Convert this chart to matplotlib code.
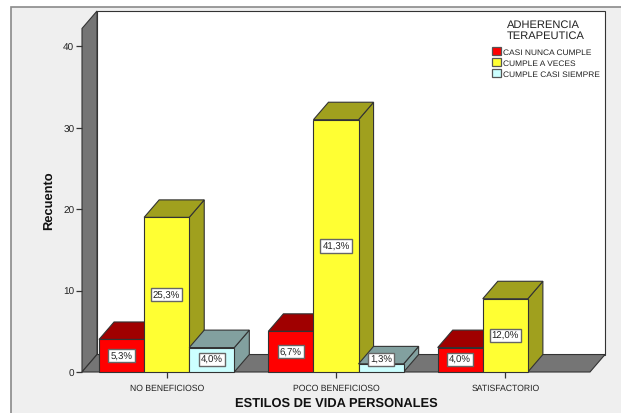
import numpy as np
import matplotlib
matplotlib.use('Agg')
import matplotlib.pyplot as plt
from matplotlib.patches import Patch, Rectangle

plt.rcParams['font.family'] = ['Liberation Sans', 'DejaVu Sans']
plt.rcParams['text.hinting'] = 'none'

categorias = ['NO BENEFICIOSO', 'POCO BENEFICIOSO', 'SATISFACTORIO']
series = ['CASI NUNCA CUMPLE', 'CUMPLE A VECES', 'CUMPLE CASI SIEMPRE']
casi_nunca = [4, 5, 3]
a_veces = [19, 31, 9]
casi_siempre = [3, 1, 0]
pct_casi_nunca = ['5,3%', '6,7%', '4,0%']
pct_a_veces = ['25,3%', '41,3%', '12,0%']
pct_casi_siempre = ['4,0%', '1,3%', '']
yticks = [0, 10, 20, 30, 40]

frente = ['#FF0000', '#FFFF33', '#CCFFFF']
tapa = ['#A00000', '#A0A01E', '#82A09F']
lado = ['#A00000', '#A0A01E', '#82A09F']
gris = '#757575'
borde = '#333333'

W, H = 621, 414
fig = plt.figure(figsize=(W / 100, H / 100), dpi=100, facecolor='white')
# marco gris del fondo
fig.add_artist(Rectangle((11 / W, -0.02), 1.1, 1 - 8 / H + 0.02, transform=fig.transFigure,
                         facecolor='#EFEFEF', edgecolor='#8A8A8A', lw=1.2, zorder=-1))

ax = fig.add_axes([82 / W, (H - 373) / H, (605 - 82) / W, (373 - 12) / H])
ax.patch.set_alpha(0)

px_x = 507 / 3.0
px_y = 8.15
dx = 15 / px_x
dy = 17.5 / px_y
x0, x1 = -0.5, 2.5
ytop = 344 / px_y
ax.set_xlim(x0, x1 + dx)
ax.set_ylim(0, ytop + dy)


def poli(xs, ys, color, z=1):
    ax.fill(xs, ys, facecolor=color, edgecolor=borde, lw=0.8, zorder=z, joinstyle='miter', clip_on=False)


# paredes y suelo
poli([x0 + dx, x1 + dx, x1 + dx, x0 + dx], [dy, dy, ytop + dy, ytop + dy], 'white')
poli([x0, x0 + dx, x0 + dx, x0], [0, dy, ytop + dy, ytop], gris)
poli([x0, x1, x1 + dx, x0 + dx], [0, 0, dy, dy], gris)

w = 45 / px_x
valores = [casi_nunca, a_veces, casi_siempre]
etiquetas = [pct_casi_nunca, pct_a_veces, pct_casi_siempre]

for c in range(len(categorias)):
    for s in range(3):
        v = valores[s][c]
        if v == 0:
            continue
        xa = c + (s - 1.5) * w
        xb = xa + w
        poli([xb, xb + dx, xb + dx, xb], [0, dy, v + dy, v], lado[s], 2)
        poli([xa, xb, xb + dx, xa + dx], [v, v, v + dy, v + dy], tapa[s], 2)
        poli([xa, xb, xb, xa], [0, 0, v, v], frente[s], 2)
        ax.text((xa + xb) / 2, max(v / 2, 1.55), etiquetas[s][c], ha='center', va='center',
                fontsize=6.9, color='#222222', zorder=5,
                bbox=dict(boxstyle='square,pad=0.22', facecolor='white', edgecolor='#666666', lw=1.0))

for sp in ax.spines.values():
    sp.set_visible(False)
ax.set_xticks(range(len(categorias)))
ax.set_xticklabels(categorias, fontsize=6.2, color='#222222')
ax.set_yticks(yticks)
ax.tick_params(axis='x', length=4.5, width=0.9, color=borde, pad=3.5)
ax.tick_params(axis='y', length=4.5, width=0.9, color=borde, labelsize=7.2, labelcolor='#222222', pad=1)

fig.text(336 / W, 1 - 404 / H, 'ESTILOS DE VIDA PERSONALES', fontsize=9.3, fontweight='bold',
         ha='center', va='center', color='#111111')
fig.text(50 / W, 1 - 201 / H, 'Recuento', fontsize=9.3, fontweight='bold', rotation=90,
         ha='center', va='center', color='#111111')

handles = [Patch(facecolor=frente[i], edgecolor='#555555', lw=0.9, label=series[i]) for i in range(3)]
leg = ax.legend(handles=handles, title='ADHERENCIA\nTERAPEUTICA', frameon=False, fontsize=6.0,
                title_fontsize=8.0, loc='upper left', bbox_to_anchor=((492 - 82) / 523, 1 - 8 / 361),
                handlelength=1.08, handleheight=1.08, handletextpad=0.2, labelspacing=0.33,
                borderpad=0, borderaxespad=0)
leg.get_title().set_linespacing(1.05)
leg.get_title().set_color('#222222')
leg._legend_box.sep = 5
for t in leg.get_texts():
    t.set_color('#222222')
leg.set_zorder(6)

fig.savefig('out.png', dpi=100)
